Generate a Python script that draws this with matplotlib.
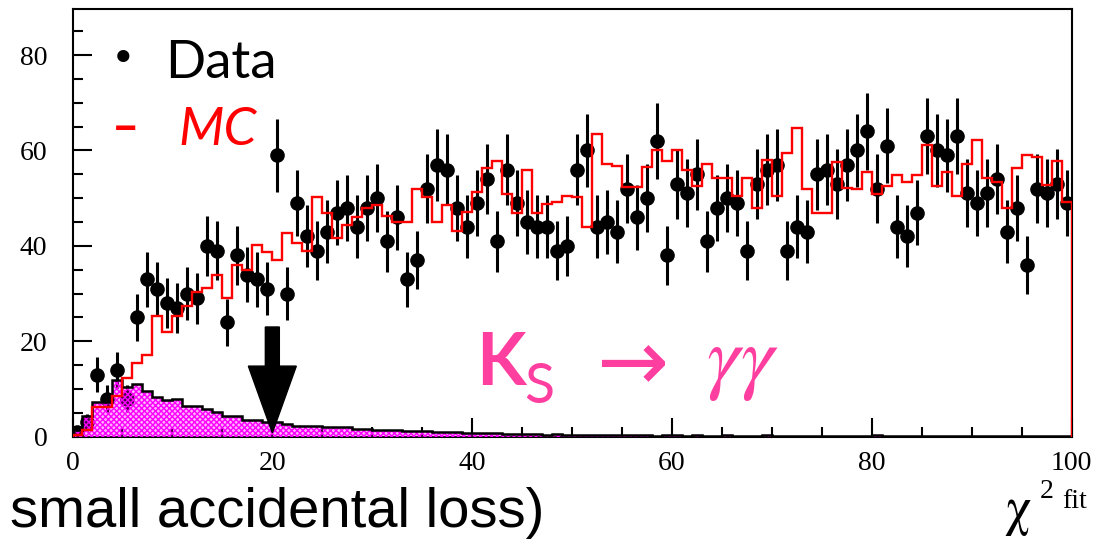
import matplotlib
matplotlib.use('Agg')
import matplotlib.pyplot as plt
import numpy as np
from matplotlib.ticker import MultipleLocator

plt.rcParams['mathtext.fontset'] = 'stix'

# chi2 of the kinematic fit, 1-unit bins from 0 to 100
edges = np.arange(0, 101, 1)
centers = edges[:-1] + 0.5

data_counts = [1, 3, 13, 8, 14, 8, 25, 33, 31, 28,
               27, 30, 29, 40, 39, 24, 38, 34, 33, 31,
               59, 30, 49, 42, 39, 43, 47, 48, 44, 48,
               50, 41, 46, 33, 37, 52, 57, 56, 48, 44,
               49, 54, 41, 56, 49, 45, 44, 44, 39, 40,
               56, 60, 44, 45, 43, 52, 46, 50, 62, 38,
               53, 51, 55, 41, 48, 50, 49, 39, 53, 56,
               57, 39, 44, 43, 55, 56, 53, 57, 60, 64,
               52, 61, 44, 42, 47, 63, 60, 59, 63, 51,
               49, 51, 54, 43, 48, 36, 52, 51, 53, 49]

mc_counts = [0.3, 1.5, 6.3, 6.3, 8.5, 12.3, 15.4, 17.2, 25.4, 21.9,
             25.4, 27.5, 30.3, 31.1, 33.9, 29.0, 36.0, 35.0, 40.1, 38.8,
             37.1, 42.7, 40.7, 39.0, 50.2, 47.0, 41.6, 44.3, 46.1, 48.0,
             48.6, 46.3, 45.0, 45.0, 51.9, 50.3, 45.1, 48.6, 43.2, 47.2,
             51.2, 56.4, 57.8, 50.8, 46.8, 55.9, 46.8, 48.8, 49.3, 50.5,
             50.3, 43.9, 63.4, 57.1, 56.8, 52.4, 52.4, 56.5, 60.0, 57.9,
             60.1, 55.9, 52.6, 57.1, 54.2, 54.2, 50.5, 54.2, 48.0, 58.1,
             50.5, 59.5, 64.8, 51.9, 46.8, 46.8, 57.5, 52.2, 51.9, 55.4,
             50.8, 52.6, 54.9, 53.5, 54.9, 61.2, 52.6, 55.4, 50.5, 57.1,
             62.1, 54.2, 53.3, 48.0, 56.3, 59.1, 58.7, 52.8, 57.9, 49.1]

# Ks -> gamma gamma signal MC
ks_gg_counts = [1.5, 4.4, 7.2, 7.2, 11.9, 10.5, 11.0, 9.6, 8.4, 7.7,
                7.8, 6.5, 6.4, 5.8, 5.1, 4.3, 4.4, 3.6, 3.6, 3.0,
                3.0, 2.7, 2.2, 2.2, 2.2, 2.0, 2.0, 2.0, 1.7, 1.6,
                1.5, 1.4, 1.3, 1.2, 1.2, 1.1, 1.0, 1.0, 0.9, 0.8,
                0.8, 0.7, 0.7, 0.6, 0.6, 0.5, 0.5, 0.4, 0.5, 0.4,
                0.4, 0.3, 0.4, 0.3, 0.3, 0.4, 0.3, 0.3, 0.2, 0.3,
                0.3, 0.2, 0.3, 0.2, 0.2, 0.3, 0.2, 0.2, 0.2, 0.3,
                0.2, 0.2, 0.2, 0.1, 0.2, 0.2, 0.1, 0.2, 0.2, 0.2,
                0.3, 0.2, 0.1, 0.2, 0.1, 0.2, 0.1, 0.1, 0.2, 0.1,
                0.1, 0.1, 0.2, 0.1, 0.1, 0.2, 0.1, 0.1, 0.1, 0.1]

cut_value = 20

W, H = 1117, 539
fig = plt.figure(figsize=(W / 100, H / 100), dpi=100)
ax = fig.add_axes([72.5 / W, 1 - 436.7 / H, (1071.7 - 72.5) / W, (436.7 - 9.3) / H])

ax.errorbar(centers, data_counts, yerr=np.sqrt(data_counts), fmt='o', color='black',
            ms=9.5, elinewidth=2.2, capsize=0, zorder=2)
plt.rcParams['hatch.linewidth'] = 1.0
ax.stairs(ks_gg_counts, edges, fill=True, facecolor=(1, 0, 1, 0.3), lw=0, zorder=3)
ax.stairs(ks_gg_counts, edges, fill=True, facecolor='none', edgecolor='#ff00ff',
          hatch='xxxxxx', lw=0, zorder=3)
ax.stairs(ks_gg_counts, edges, color='black', lw=1.8, zorder=4)
ax.stairs(mc_counts, edges, color='red', lw=1.7, zorder=5)

# cut arrow
ax.arrow(cut_value, 23, 0, -22.2, width=1.4, head_width=4.8, head_length=14,
         length_includes_head=True, color='black', zorder=6)

ax.set_xlim(0, 100)
ax.set_ylim(0, 89.6)
ax.xaxis.set_major_locator(MultipleLocator(20))
ax.xaxis.set_minor_locator(MultipleLocator(5))
ax.yaxis.set_major_locator(MultipleLocator(20))
ax.yaxis.set_minor_locator(MultipleLocator(5))
ax.tick_params(which='both', direction='in', top=False, right=False, width=1.5)
ax.tick_params(which='major', length=14)
ax.tick_params(which='minor', length=7)
ax.tick_params(axis='y', pad=18)
ax.tick_params(axis='x', pad=10)
for lab in ax.get_xticklabels() + ax.get_yticklabels():
    lab.set_fontfamily('Liberation Serif')
    lab.set_fontsize(20)
for s in ax.spines.values():
    s.set_linewidth(1.5)

def fx(x):
    return x / W

def fy(y):
    return 1 - y / H

# legend-like labels
fig.text(fx(123), fy(60), '•', fontsize=30, ha='center', va='center', color='black')
fig.text(fx(165), fy(78), 'Data', fontsize=38, family='Lato', color='black', va='baseline')
fig.text(fx(126), fy(128), '–', fontsize=34, family='Lato', weight='bold', ha='center',
         va='center', color='red')
fig.text(fx(178), fy(145), 'MC', fontsize=38, family='Lato', style='italic', color='red', va='baseline')

# Ks -> gamma gamma label
pink = '#ff3fa0'
fig.text(fx(476), fy(385), 'K', fontsize=52, family='Lato', weight='bold', color=pink, va='baseline')
fig.text(fx(524), fy(403), 'S', fontsize=40, family='Lato', color=pink, va='baseline')
fig.text(fx(596), fy(390), '→', fontsize=62, family='DejaVu Sans', color=pink, va='baseline')
fig.text(fx(706), fy(384), r'$\gamma\gamma$', fontsize=60, color=pink, va='baseline')

# bottom texts
fig.text(fx(10), fy(527), 'small accidental loss)', fontsize=40.5, family='Liberation Sans', va='baseline')
fig.text(fx(1004), fy(524), r'$\mathrm{\chi}$', fontsize=38, va='baseline')
fig.text(fx(1040), fy(498), '2', fontsize=20, family='Liberation Serif', va='baseline')
fig.text(fx(1062), fy(508), 'fit', fontsize=20, family='Liberation Serif', va='baseline')

fig.savefig('out.png', dpi=100)
